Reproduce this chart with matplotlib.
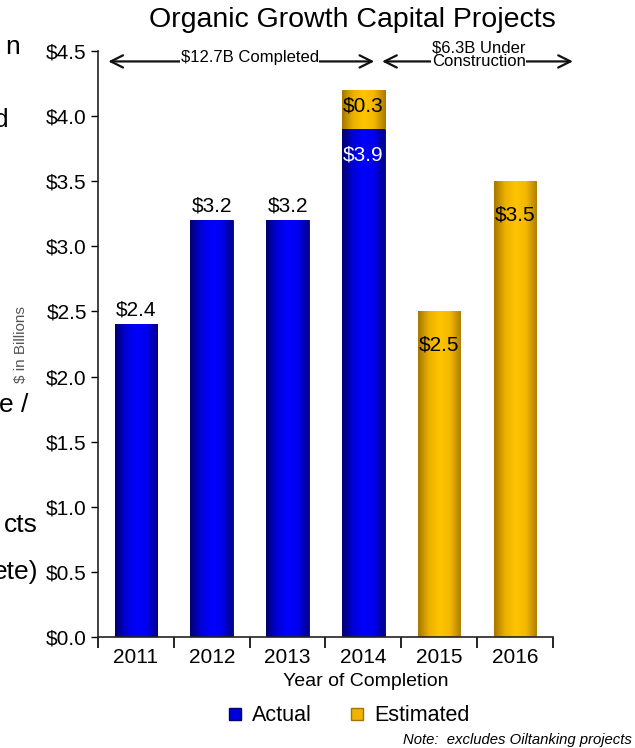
"""
Organic Growth Capital Projects - recreated bar chart.
"""

import numpy as np
import matplotlib
matplotlib.use("Agg")
import matplotlib.pyplot as plt
from matplotlib.colors import LinearSegmentedColormap
from matplotlib.lines import Line2D

plt.rcParams["font.family"] = ["Liberation Sans", "DejaVu Sans"]

# -------------------------------------------------------------------
# Data
# -------------------------------------------------------------------
years = ["2011", "2012", "2013", "2014", "2015", "2016"]
actual = [2.4, 3.2, 3.2, 3.9, 0.0, 0.0]
estimated = [0.0, 0.0, 0.0, 0.3, 2.5, 3.5]
y_ticks = [0.0, 0.5, 1.0, 1.5, 2.0, 2.5, 3.0, 3.5, 4.0, 4.5]

BLUE_CMAP = LinearSegmentedColormap.from_list(
    "cyl_blue", ["#000070", "#0000d8", "#0000ff", "#0000ee", "#00008a"])
GOLD_CMAP = LinearSegmentedColormap.from_list(
    "cyl_gold", ["#a67800", "#eab000", "#ffc400", "#f4b800", "#b08000"])

FS = 15  # ticks / value labels


def shade_bars(ax, bars, cmap):
    """Paint a left-to-right cylinder gradient inside each bar."""
    grad = np.linspace(0, 1, 64).reshape(1, -1)
    for patch in bars:
        if patch.get_height() <= 0:
            continue
        x0, y0 = patch.get_x(), patch.get_y()
        w, h = patch.get_width(), patch.get_height()
        im = ax.imshow(grad, cmap=cmap, aspect="auto",
                       extent=(x0, x0 + w, y0, y0 + h), zorder=2)
        im.set_clip_path(patch)


fig = plt.figure(figsize=(6.35, 7.48), dpi=100)
ax = fig.add_axes([0.1543, 0.1484, 0.7165, 0.7834])

x = np.arange(len(years))
width = 0.56
b_act = ax.bar(x, actual, width, color="#0000ff", edgecolor="#000050",
               linewidth=0.6, zorder=1)
b_est = ax.bar(x, estimated, width, bottom=actual, color="#ffc000",
               edgecolor="#8a6400", linewidth=0.6, zorder=1)
shade_bars(ax, b_act, BLUE_CMAP)
shade_bars(ax, b_est, GOLD_CMAP)

# value labels
for i in range(len(years)):
    a, e = actual[i], estimated[i]
    if a > 0 and e == 0:
        ax.text(i, a + 0.04, f"${a:.1f}", ha="center", va="bottom", fontsize=FS)
    elif a > 0 and e > 0:
        ax.text(i, a - 0.2, f"${a:.1f}", ha="center", va="center", fontsize=FS,
                color="white", zorder=4)
        ax.text(i, a + e / 2 + 0.03, f"${e:.1f}", ha="center", va="center",
                fontsize=FS, zorder=4)
    else:
        ax.text(i, e - 0.26, f"${e:.1f}", ha="center", va="center", fontsize=FS,
                zorder=4)

ax.set_xlim(-0.5, len(years) - 0.5)
ax.set_ylim(0, 4.5)
ax.set_yticks(y_ticks)
ax.set_yticklabels([f"${v:.1f}" for v in y_ticks], fontsize=FS)
ax.set_xticks(x)
ax.set_xticklabels(years, fontsize=FS)
ax.tick_params(axis="x", length=0, pad=8)
ax.set_xticks(np.arange(-0.5, len(years)), minor=True)
ax.tick_params(axis="x", which="minor", length=8, width=1.2, direction="out")
ax.tick_params(axis="y", length=5, width=1, direction="out", pad=3)
for side in ["top", "right"]:
    ax.spines[side].set_visible(False)
for side in ["left", "bottom"]:
    ax.spines[side].set_linewidth(1.2)
    ax.spines[side].set_color("#222222")

ax.set_xlabel("Year of Completion", fontsize=14)
ax.xaxis.set_label_coords(0.589, -0.061)
fig.text(0.033, 0.539, "$ in Billions", rotation=90, ha="center", va="center",
         fontsize=11, color="#555555")

fig.text(0.555, 0.973, "Organic Growth Capital Projects", ha="center",
         va="center", fontsize=20.5)

# span arrows
arrow_y = 4.42
arrow_kw = dict(arrowstyle="<->", color="#111111", lw=1.6, mutation_scale=22)
ax.annotate("", xy=(-0.4, arrow_y), xytext=(3.18, arrow_y),
            arrowprops=arrow_kw, annotation_clip=False)
ax.annotate("", xy=(3.21, arrow_y), xytext=(5.8, arrow_y),
            arrowprops=arrow_kw, annotation_clip=False)
ax.text(1.5, arrow_y + 0.03, "$12.7B Completed", ha="center", va="center",
        fontsize=12, bbox=dict(fc="white", ec="none", pad=0.5), zorder=5)
ax.text(4.52, arrow_y + 0.05, "$6.3B Under\nConstruction", ha="center",
        va="center", fontsize=12, linespacing=0.85,
        bbox=dict(fc="white", ec="none", pad=0.5), zorder=5)

# legend
handles = [
    Line2D([], [], marker="s", ls="none", markersize=8, markerfacecolor="#0000dd",
           markeredgecolor="#000070"),
    Line2D([], [], marker="s", ls="none", markersize=8, markerfacecolor="#f0b400",
           markeredgecolor="#a07400"),
]
fig.legend(handles, ["Actual", "Estimated"], loc="center",
           bbox_to_anchor=(0.546, 0.043), ncol=2, frameon=False, fontsize=15.5,
           handletextpad=0.3, columnspacing=1.6, handlelength=1.0)

fig.text(0.995, 0.011, "Note:  excludes Oiltanking projects", ha="right",
         va="center", fontsize=10.7, style="italic")

# cropped slide text at left edge
left_frags = [("n", 0.031, 0.937), ("d", 0.013, 0.84), ("e /", 0.045, 0.458),
              ("cts", 0.06, 0.298), ("ete)", 0.06, 0.235)]
for txt, fx, fy in left_frags:
    fig.text(fx, fy, txt, ha="right", va="center", fontsize=19)

fig.savefig("out.png", dpi=100)
